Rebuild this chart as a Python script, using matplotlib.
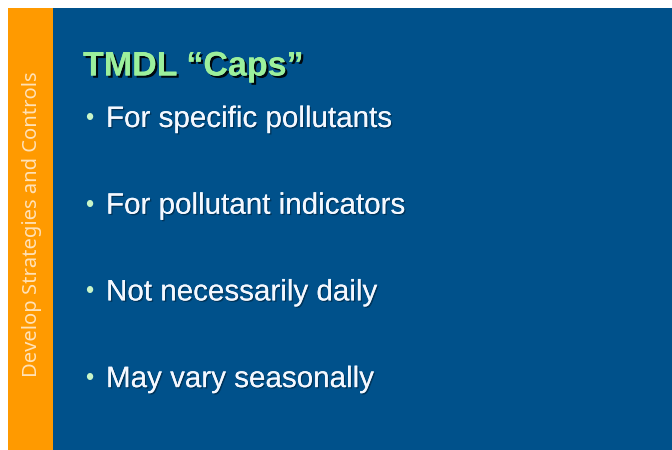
import matplotlib
matplotlib.use("Agg")
import matplotlib.pyplot as plt
import matplotlib.patches as patches
import matplotlib.patheffects as pe

# slide content
TITLE = "TMDL \u201cCaps\u201d"
SIDE_LABEL = "Develop Strategies and Controls"
BULLETS = [
    "For specific pollutants",
    "For pollutant indicators",
    "Not necessarily daily",
    "May vary seasonally",
]

W, H = 672, 450
fig = plt.figure(figsize=(W / 100, H / 100), dpi=100)
ax = fig.add_axes([0, 0, 1, 1])
ax.set_xlim(0, W)
ax.set_ylim(H, 0)
ax.axis("off")
fig.patch.set_facecolor("white")

# background panels
ax.add_patch(patches.Rectangle((53, 8), W - 53, H - 8, facecolor="#00518B", edgecolor="none"))
ax.add_patch(patches.Rectangle((8, 8), 45, H - 8, facecolor="#FF9A00", edgecolor="none"))

# side label
ax.text(32, 224, SIDE_LABEL, rotation=90, ha="center", va="center",
        fontsize=14.5, color="#FFE2B8", family="Noto Sans")

shadow = [pe.withSimplePatchShadow(offset=(1, -1), shadow_rgbFace="black", alpha=0.35),
          pe.Normal()]

# title with shadow
ax.text(83, 67, TITLE, ha="left", va="center", fontsize=24.5, weight="bold",
        color="#9CF09C", family="Liberation Sans",
        path_effects=[pe.withSimplePatchShadow(offset=(1.6, -1.6), shadow_rgbFace="black", alpha=0.9),
                      pe.Normal()])

# bullets
y0, dy = 119, 86.7
for i, b in enumerate(BULLETS):
    y = y0 + i * dy
    ax.text(85, y, "\u2022", ha="left", va="center", fontsize=17, color="#C8F5C8",
            family="Liberation Sans")
    ax.text(106, y, b, ha="left", va="center", fontsize=21.3, color="#F4F8FF",
            family="Liberation Sans", path_effects=shadow)

fig.savefig("out.png", dpi=100)
